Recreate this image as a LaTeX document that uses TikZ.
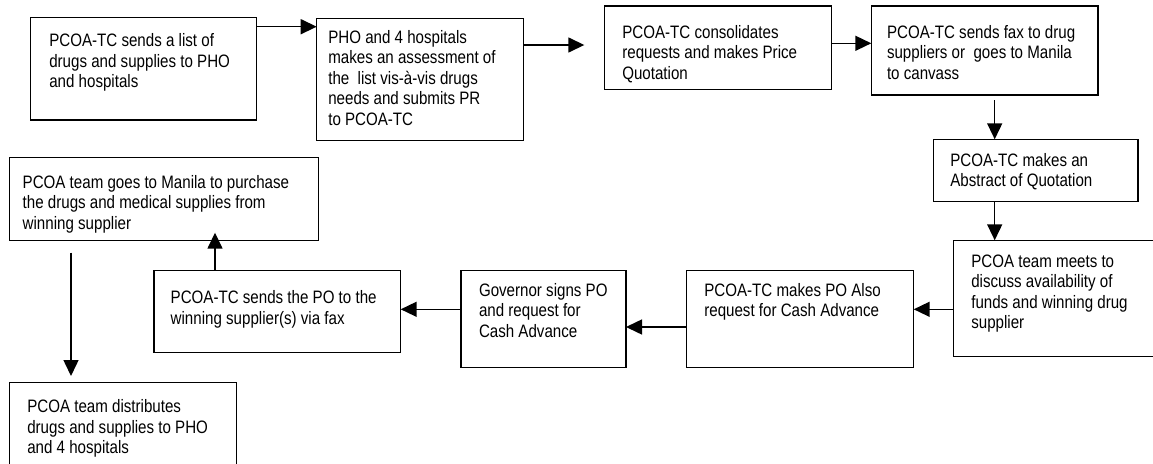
\documentclass[tikz,border=0pt]{standalone}
\usepackage{fontspec}
\setmainfont{Liberation Sans}[FakeStretch=0.84]
\usetikzlibrary{arrows.meta}
\newcommand\flowtext[1]{\begin{tabular}[t]{@{}l@{}}#1\end{tabular}}
\begin{document}
\begin{tikzpicture}[x=1pt,y=-1pt,
  box/.style={draw, line width=1.5pt, inner sep=0pt, outer sep=0pt, anchor=north west},
  txt/.style={anchor=base west, inner sep=0pt, outer sep=0pt, font=\fontsize{18}{20.5}\selectfont},
  arr/.style={line width=1.5pt, -{Triangle[length=16pt,width=15pt]}}]
\useasboundingbox (0,0) rectangle (1153,463);
\fill[white] (0,0) rectangle (1153,463);
\clip (0,0) rectangle (1153,463);

% boxes
\node[box, minimum width=226pt,   minimum height=102.7pt] (A) at (30.7,17.3) {};
\node[box, minimum width=206.6pt, minimum height=122.4pt] (B) at (316.7,18.3) {};
\node[box, minimum width=227pt,   minimum height=83.3pt]  (C) at (604.3,6) {};
\node[box, minimum width=226.7pt, minimum height=89pt]    (D) at (871.3,6) {};
\node[box, minimum width=204.3pt, minimum height=62.4pt]  (E) at (933.7,139.3) {};
\node[box, minimum width=211pt,   minimum height=116.4pt] (J) at (953.7,240.3) {};
\node[box, minimum width=227pt,   minimum height=97.4pt]  (K) at (686.7,270.3) {};
\node[box, minimum width=165pt,   minimum height=97.4pt]  (I) at (461,270.3) {};
\node[box, minimum width=246.7pt, minimum height=82.4pt]  (G) at (154,270.3) {};
\node[box, minimum width=309pt,   minimum height=83pt]    (F) at (9.3,157.3) {};
\node[box, minimum width=227.4pt, minimum height=95pt]    (H) at (9.3,382.7) {};

% texts
\node[txt] (tA) at (49.3,46.7) {\flowtext{PCOA-TC sends a list of\\drugs and supplies to PHO\\and hospitals}};
\node[txt] (tB) at (328.3,43.3) {\flowtext{PHO and 4 hospitals\\makes an assessment of\\the~ list vis-à-vis drugs\\needs and submits PR\\to PCOA-TC}};
\node[txt] (tC) at (622.3,38) {\flowtext{PCOA-TC consolidates\\requests and makes Price\\Quotation}};
\node[txt] (tD) at (887,38) {\flowtext{PCOA-TC sends fax to drug\\suppliers or~ goes to Manila\\to canvass}};
\node[txt] (tE) at (950.3,166) {\flowtext{PCOA-TC makes an\\Abstract of Quotation}};
\node[txt] (tJ) at (971.3,267) {\flowtext{PCOA team meets to\\discuss availability of\\funds and winning drug\\supplier}};
\node[txt] (tK) at (704.3,296) {\flowtext{PCOA-TC makes PO Also\\request for Cash Advance}};
\node[txt] (tI) at (479,296) {\flowtext{Governor signs PO\\and request for\\Cash Advance}};
\node[txt] (tG) at (170.7,303.7) {\flowtext{PCOA-TC sends the PO to the\\winning supplier(s) via fax}};
\node[txt] (tF) at (22.7,188.3) {\flowtext{PCOA team goes to Manila to purchase\\the drugs and medical supplies from\\winning supplier}};
\node[txt] (tH) at (27.3,412.7) {\flowtext{PCOA team distributes\\drugs and supplies to PHO\\and 4 hospitals}};

% connectors
\draw[arr] ([yshift=-9.4pt]A.north east) coordinate (ab) -- (ab -| B.west);
\draw[arr, shorten >=20pt] ([yshift=-26.7pt]B.north east) coordinate (bc) -- (bc -| C.west);
\draw[arr] ([yshift=-37.3pt]C.north east) coordinate (cd) -- (cd -| D.west);
\draw[arr, shorten <=5pt] ([xshift=123.4pt]D.south west) coordinate (de) -- (de |- E.north);
\draw[arr] ([xshift=61pt]E.south west) coordinate (ej) -- (ej |- J.north);
\draw[arr] ([yshift=-69pt]J.north west) coordinate (jk) -- (jk -| K.east);
\draw[arr] ([yshift=-56.7pt]K.north west) coordinate (ki) -- (ki -| I.east);
\draw[arr] ([yshift=-39pt]I.north west) coordinate (ig) -- (ig -| G.east);
\draw[arr, shorten >=-7.6pt] ([xshift=61pt]G.north west) coordinate (gf) -- (gf |- F.south);
\draw[arr, shorten <=12.4pt, shorten >=6.7pt] ([xshift=61.7pt]F.south west) coordinate (fh) -- (fh |- H.north);
\end{tikzpicture}
\end{document}
